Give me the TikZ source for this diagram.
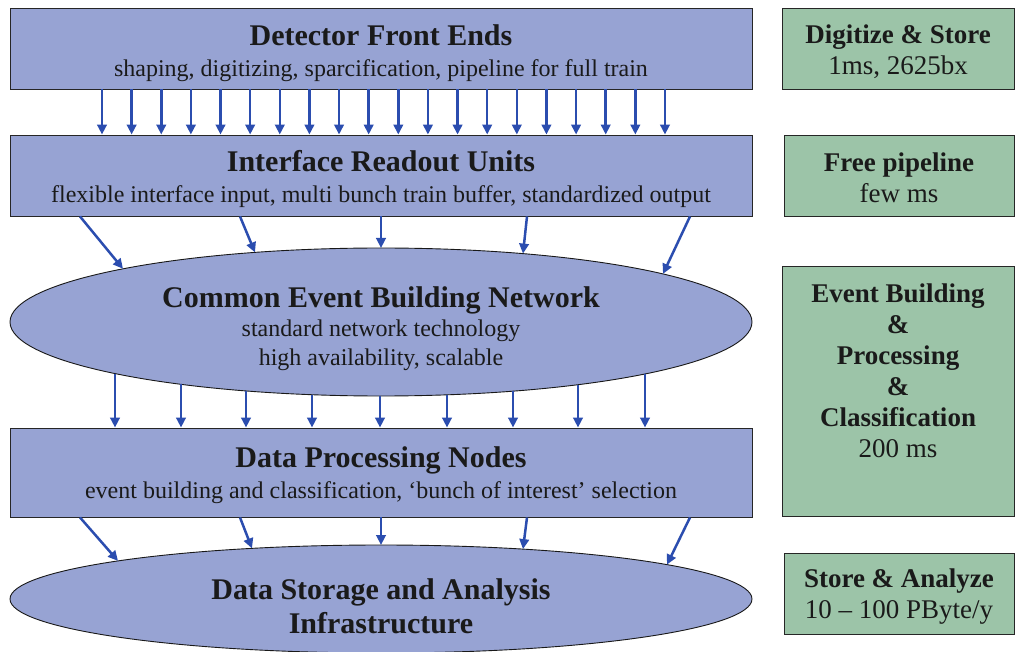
\documentclass[tikz,border=0pt]{standalone}
\usepackage{fontspec}
\setmainfont{Liberation Serif}
\usetikzlibrary{shapes.geometric,arrows.meta,calc}
\definecolor{boxblue}{HTML}{97A3D3}
\definecolor{boxgreen}{HTML}{9CC4A8}
\definecolor{arrblue}{HTML}{2B4DAF}
\definecolor{txtcol}{HTML}{1A1A1A}
\newcommand{\ttlb}[2]{{\fontsize{30}{30}\selectfont\bfseries\rule{0pt}{#1pt}#2}}
\newcommand{\ttlg}[2]{{\fontsize{27}{27}\selectfont\bfseries\rule{0pt}{#1pt}#2}}
\tikzset{
  bluebox/.style={draw=black!85, line width=0.9pt, fill=boxblue, minimum width=742pt,
    inner sep=0pt, align=center, text=txtcol, font=\fontsize{24}{31}\selectfont},
  greenbox/.style={draw=black!85, line width=0.9pt, fill=boxgreen,
    inner sep=0pt, align=center, text=txtcol, font=\fontsize{27}{31}\selectfont},
  blueell/.style={ellipse, draw=black!90, line width=0.9pt, fill=boxblue, minimum width=742pt,
    inner sep=0pt, align=center, text=txtcol, font=\fontsize{24}{29}\selectfont},
  arr/.style={draw=arrblue, line width=2.5pt, -{Triangle[length=10pt,width=9.5pt]}},
}
\begin{document}
\begin{tikzpicture}[x=1pt,y=-1pt]
\useasboundingbox (0,0) rectangle (1015,652);
% blue boxes
\node[bluebox, minimum height=81pt] (dfe) at (381,48.5)
  {\ttlb{29.5}{Detector Front Ends}\\shaping, digitizing, sparcification, pipeline for full train};
\node[bluebox, minimum height=81pt] (iru) at (381,175.5)
  {\ttlb{28.5}{Interface Readout Units}\\flexible interface input, multi bunch train buffer, standardized output};
\node[blueell, minimum height=148pt] (ceb) at (381,322)
  {\ttlb{33.5}{Common Event Building Network}\\standard network technology\\high availability, scalable};
\node[bluebox, minimum height=89pt] (dpn) at (381,472.5)
  {\ttlb{26.5}{Data Processing Nodes}\\event building and classification, `bunch of interest' selection};
\node[blueell, minimum height=108pt] (dsa) at (381,599) {};
\node[align=center, text=txtcol, font=\fontsize{30}{34}\selectfont\bfseries] (dsat) at (381,606)
  {Data Storage and Analysis\\Infrastructure};
% green boxes
\node[greenbox, minimum width=232pt, minimum height=81pt] (g1) at (898,48.5)
  {\ttlg{24.5}{Digitize \& Store}\\1ms, 2625bx};
\node[greenbox, minimum width=230pt, minimum height=81pt] (g2) at (899,175.5)
  {\ttlg{23.5}{Free pipeline}\\few ms};
\node[greenbox, minimum width=232pt, minimum height=250pt, text depth=45pt] (g3) at (898,391)
  {\ttlg{22.5}{Event Building}\\\ttlg{0}{\&}\\\ttlg{0}{Processing}\\\ttlg{0}{\&}\\\ttlg{0}{Classification}\\200 ms};
\node[greenbox, minimum width=230pt, minimum height=81pt] (g4) at (899,593.5)
  {\ttlg{25.5}{Store \& Analyze}\\10 -- 100 PByte/y};
% arrows: front ends -> readout units
\foreach \i in {0,...,19}
  \draw[arr] (dfe.south -| {102+\i*29.63},0) -- (iru.north -| {102+\i*29.63},0);
% readout units -> event building network
\foreach \x/\dx/\dy in {80/-258/-53.2, 240/-126/-69.6, 381/0/-74, 527/142/-68.4, 690/282/-48.1}
  \draw[arr] (iru.south -| \x,0) -- ($(ceb.center)+(\dx,\dy)$);
% event building network -> processing nodes
\foreach \dx/\dy [count=\k] in {-266/51.6, -200/62.3, -135/68.9, -69/72.7, -1/74, 66/72.8, 132/69.2, 197/62.7, 264/52.0}{
  \coordinate (cs\k) at ($(ceb.center)+(\dx,\dy)$);
  \draw[arr] (cs\k) -- (cs\k |- dpn.north);
}
% processing nodes -> storage
\foreach \x/\dx/\dy in {80/-263/-38.1, 240/-129/-50.6, 381/0/-54, 527/142/-49.9, 690/286/-34.4}
  \draw[arr] (dpn.south -| \x,0) -- ($(dsa.center)+(\dx,\dy)$);
\end{tikzpicture}
\end{document}
